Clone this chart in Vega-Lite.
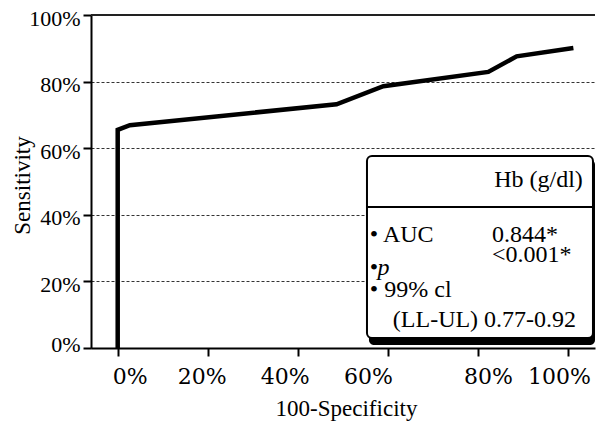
{
  "$schema": "https://vega.github.io/schema/vega-lite/v6.json",
  "autosize": {"type": "none"},
  "padding": {"left": 91, "top": 15, "right": 1, "bottom": 74},
  "width": 504,
  "height": 333,
  "config": {
    "font": "'Liberation Serif', 'Times New Roman', Times, serif",
    "view": {"stroke": null},
    "axis": {"labelFont": "'Liberation Serif', 'Times New Roman', Times, serif", "titleFont": "'Liberation Serif', 'Times New Roman', Times, serif"},
    "axisX": {"labelFont": "'DejaVu Serif', serif"},
    "text": {"font": "'Liberation Serif', 'Times New Roman', Times, serif"}
  },
  "datasets": {
    "roc": [
      {"i": 1, "fpr": 0.0, "sens": 0.0},
      {"i": 2, "fpr": 0.0, "sens": 0.655},
      {"i": 3, "fpr": 0.027, "sens": 0.669},
      {"i": 4, "fpr": 0.486, "sens": 0.732},
      {"i": 5, "fpr": 0.59, "sens": 0.786},
      {"i": 6, "fpr": 0.823, "sens": 0.829},
      {"i": 7, "fpr": 0.886, "sens": 0.876},
      {"i": 8, "fpr": 1.012, "sens": 0.901}
    ],
    "one": [{}]
  },
  "layer": [
    {
      "data": {"name": "roc"},
      "mark": {"type": "line", "color": "black", "strokeWidth": 4.5, "strokeJoin": "miter"},
      "encoding": {
        "x": {
          "field": "fpr", "type": "quantitative",
          "scale": {"domain": [-0.0593, 1.06], "nice": false, "zero": false},
          "axis": {
            "values": [0, 0.2, 0.4, 0.6, 0.8, 1], "format": ".0%",
            "title": "100-Specificity", "titleFontSize": 23, "titleFontWeight": "normal", "titleColor": "black",
            "titleBaseline": "alphabetic", "titleY": 67, "titleX": 255,
            "labelFontSize": 22, "labelColor": "black", "labelPadding": 27, "labelBaseline": "alphabetic",
            "labelOffset": {"condition": [
              {"test": "datum.value == 0", "value": 12},
              {"test": "datum.value == 0.2", "value": -6},
              {"test": "datum.value == 0.4", "value": -13},
              {"test": "datum.value == 0.6", "value": -20},
              {"test": "datum.value == 0.8", "value": 10}
            ], "value": -9},
            "domainColor": "black", "domainWidth": 2, "tickColor": "black", "tickWidth": 2, "tickSize": 8,
            "grid": false
          }
        },
        "y": {
          "field": "sens", "type": "quantitative",
          "scale": {"domain": [0, 1], "nice": false},
          "axis": {
            "values": [0, 0.2, 0.4, 0.6, 0.8, 1], "format": ".0%",
            "title": "Sensitivity", "titleFontSize": 23, "titleFontWeight": "normal", "titleColor": "black",
            "titleBaseline": "alphabetic", "titleX": -62, "titleY": 170,
            "labelFontSize": 22, "labelColor": "black", "labelPadding": 3, "labelBaseline": "middle",
            "labelOffset": {"condition": {"test": "datum.value == 0", "value": -4}, "value": 3},
            "domainColor": "black", "domainWidth": 2, "tickColor": "black", "tickWidth": 2, "tickSize": 8,
            "grid": true, "gridColor": "#333333", "gridWidth": 1, "gridDash": [3, 2]
          }
        },
        "order": {"field": "i", "type": "quantitative"}
      }
    },
    {
      "data": {"name": "one"},
      "mark": {"type": "rule", "color": "#222222", "strokeWidth": 2},
      "encoding": {"y": {"datum": 1, "type": "quantitative"}}
    },
    {
      "data": {"name": "one"},
      "mark": {"type": "rect", "fill": "black", "cornerRadius": 5},
      "encoding": {
        "x": {"datum": 0.558, "type": "quantitative"},
        "x2": {"datum": 1.060},
        "y": {"datum": 0.565, "type": "quantitative"},
        "y2": {"datum": 0.009}
      }
    },
    {
      "data": {"name": "one"},
      "mark": {"type": "rect", "fill": "white", "stroke": "black", "strokeWidth": 2, "cornerRadius": 5},
      "encoding": {
        "x": {"datum": 0.5536, "type": "quantitative"},
        "x2": {"datum": 1.0555},
        "y": {"datum": 0.5766, "type": "quantitative"},
        "y2": {"datum": 0.030}
      }
    },
    {
      "data": {"name": "one"},
      "mark": {"type": "rule", "color": "black", "strokeWidth": 2},
      "encoding": {
        "x": {"datum": 0.5536, "type": "quantitative"},
        "x2": {"datum": 1.0555},
        "y": {"datum": 0.4234, "type": "quantitative"}
      }
    },
    {
      "data": {"name": "one"},
      "mark": {"type": "text", "text": "Hb (g/dl)", "align": "right", "baseline": "alphabetic", "fontSize": 24, "color": "black"},
      "encoding": {"x": {"datum": 1.033, "type": "quantitative"}, "y": {"datum": 0.4835, "type": "quantitative"}}
    },
    {
      "data": {"name": "one"},
      "mark": {"type": "text", "text": "• AUC", "align": "left", "baseline": "alphabetic", "fontSize": 24, "color": "black"},
      "encoding": {"x": {"datum": 0.560, "type": "quantitative"}, "y": {"datum": 0.318, "type": "quantitative"}}
    },
    {
      "data": {"name": "one"},
      "mark": {"type": "text", "text": "0.844*", "align": "left", "baseline": "alphabetic", "fontSize": 24, "color": "black"},
      "encoding": {"x": {"datum": 0.831, "type": "quantitative"}, "y": {"datum": 0.318, "type": "quantitative"}}
    },
    {
      "data": {"name": "one"},
      "mark": {"type": "text", "text": "•", "align": "left", "baseline": "alphabetic", "fontSize": 24, "color": "black"},
      "encoding": {"x": {"datum": 0.560, "type": "quantitative"}, "y": {"datum": 0.22, "type": "quantitative"}}
    },
    {
      "data": {"name": "one"},
      "mark": {"type": "text", "text": "p", "align": "left", "baseline": "alphabetic", "fontSize": 24, "fontStyle": "italic", "color": "black"},
      "encoding": {"x": {"datum": 0.577, "type": "quantitative"}, "y": {"datum": 0.22, "type": "quantitative"}}
    },
    {
      "data": {"name": "one"},
      "mark": {"type": "text", "text": "<0.001*", "align": "left", "baseline": "alphabetic", "fontSize": 24, "color": "black"},
      "encoding": {"x": {"datum": 0.831, "type": "quantitative"}, "y": {"datum": 0.258, "type": "quantitative"}}
    },
    {
      "data": {"name": "one"},
      "mark": {"type": "text", "text": "• 99% cl", "align": "left", "baseline": "alphabetic", "fontSize": 24, "color": "black"},
      "encoding": {"x": {"datum": 0.560, "type": "quantitative"}, "y": {"datum": 0.153, "type": "quantitative"}}
    },
    {
      "data": {"name": "one"},
      "mark": {"type": "text", "text": "(LL-UL) 0.77-0.92", "align": "left", "baseline": "alphabetic", "fontSize": 24, "color": "black"},
      "encoding": {"x": {"datum": 0.611, "type": "quantitative"}, "y": {"datum": 0.063, "type": "quantitative"}}
    }
  ]
}
